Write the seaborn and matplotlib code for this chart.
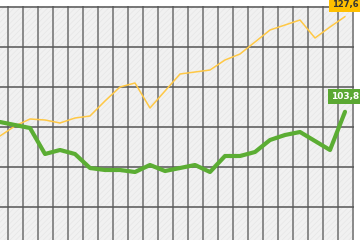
import matplotlib
matplotlib.use("Agg")
import matplotlib.pyplot as plt
from matplotlib.patches import Rectangle
import seaborn as sns
import pandas as pd

# ---- data ----
periods = list(range(24))
orange_values = [97.75, 100.25, 102.0, 101.75, 101.0, 102.25, 102.75, 106.5, 110.0, 111.0,
                 104.75, 109.0, 113.25, 113.75, 114.25, 116.75, 118.25, 121.25, 124.25,
                 125.5, 126.75, 122.25, 125.0, 127.6]
green_values = [101.25, 100.5, 99.75, 93.25, 94.25, 93.25, 89.75, 89.25, 89.25, 88.75,
                90.5, 89.0, 89.75, 90.5, 88.75, 92.75, 92.75, 93.75, 96.75, 98.0,
                98.75, 96.5, 94.25, 103.8]
end_labels = ["127,6", "103,8"]
y_gridlines = [80, 90, 100, 110, 120, 130]

ORANGE = "#FFC845"
ORANGE_BOX = "#FFC000"
GREEN = "#5BAD33"
GREEN_BOX = "#5AA832"

sns.set_theme(style="white")
plt.rcParams["font.family"] = ["DejaVu Sans"]
plt.rcParams["hatch.linewidth"] = 0.5

W, H = 360, 240
fig = plt.figure(figsize=(W / 100, H / 100), dpi=100)
fig.patch.set_facecolor("white")
# 15 px per period, 4 px per unit
x0, x1 = 0.0, 23.6
y0, y1 = 71.75, 130.2
ax = fig.add_axes([0, 0, (x1 - x0) * 15 / W, (y1 - y0) * 4 / H])
ax.set_xlim(x0, x1)
ax.set_ylim(y0, y1)
ax.set_facecolor("#f1f1f1")
ax.add_patch(Rectangle((0, 0), 1, 1, transform=ax.transAxes, facecolor="#f1f1f1",
                       edgecolor="#e6e6e6", hatch="//////", linewidth=0, zorder=0))

for k in periods:
    ax.axvline(k + 0.5, color="#6e6e6e", linewidth=1.1, zorder=1)
for yv in y_gridlines:
    ax.axhline(yv, color="#555555", linewidth=1.1, zorder=1)

df = pd.DataFrame({"period": periods, "orange": orange_values, "green": green_values})
sns.lineplot(data=df, x="period", y="orange", color=ORANGE, linewidth=1.1, ax=ax, zorder=3)
sns.lineplot(data=df, x="period", y="green", color=GREEN, linewidth=3.0, ax=ax, zorder=4)

last = periods[-1]
ax.annotate(end_labels[0], xy=(last, orange_values[-1]), xytext=(0, 7.5),
            textcoords="offset pixels", ha="center", va="bottom", fontsize=6,
            color="#333333", fontweight="bold", annotation_clip=False, zorder=6,
            bbox=dict(boxstyle="square,pad=0.3", facecolor=ORANGE_BOX, edgecolor="none"))
ax.annotate(end_labels[1], xy=(last, green_values[-1]), xytext=(0, 10.5),
            textcoords="offset pixels", ha="center", va="bottom", fontsize=6.5,
            color="white", fontweight="bold", annotation_clip=False, zorder=6,
            bbox=dict(boxstyle="square,pad=0.35", facecolor=GREEN_BOX, edgecolor="none"))

ax.set_xlabel("")
ax.set_ylabel("")
ax.set_xticks([])
ax.set_yticks([])
for s in ax.spines.values():
    s.set_visible(False)

fig.savefig("out.png", dpi=100, facecolor="white")
